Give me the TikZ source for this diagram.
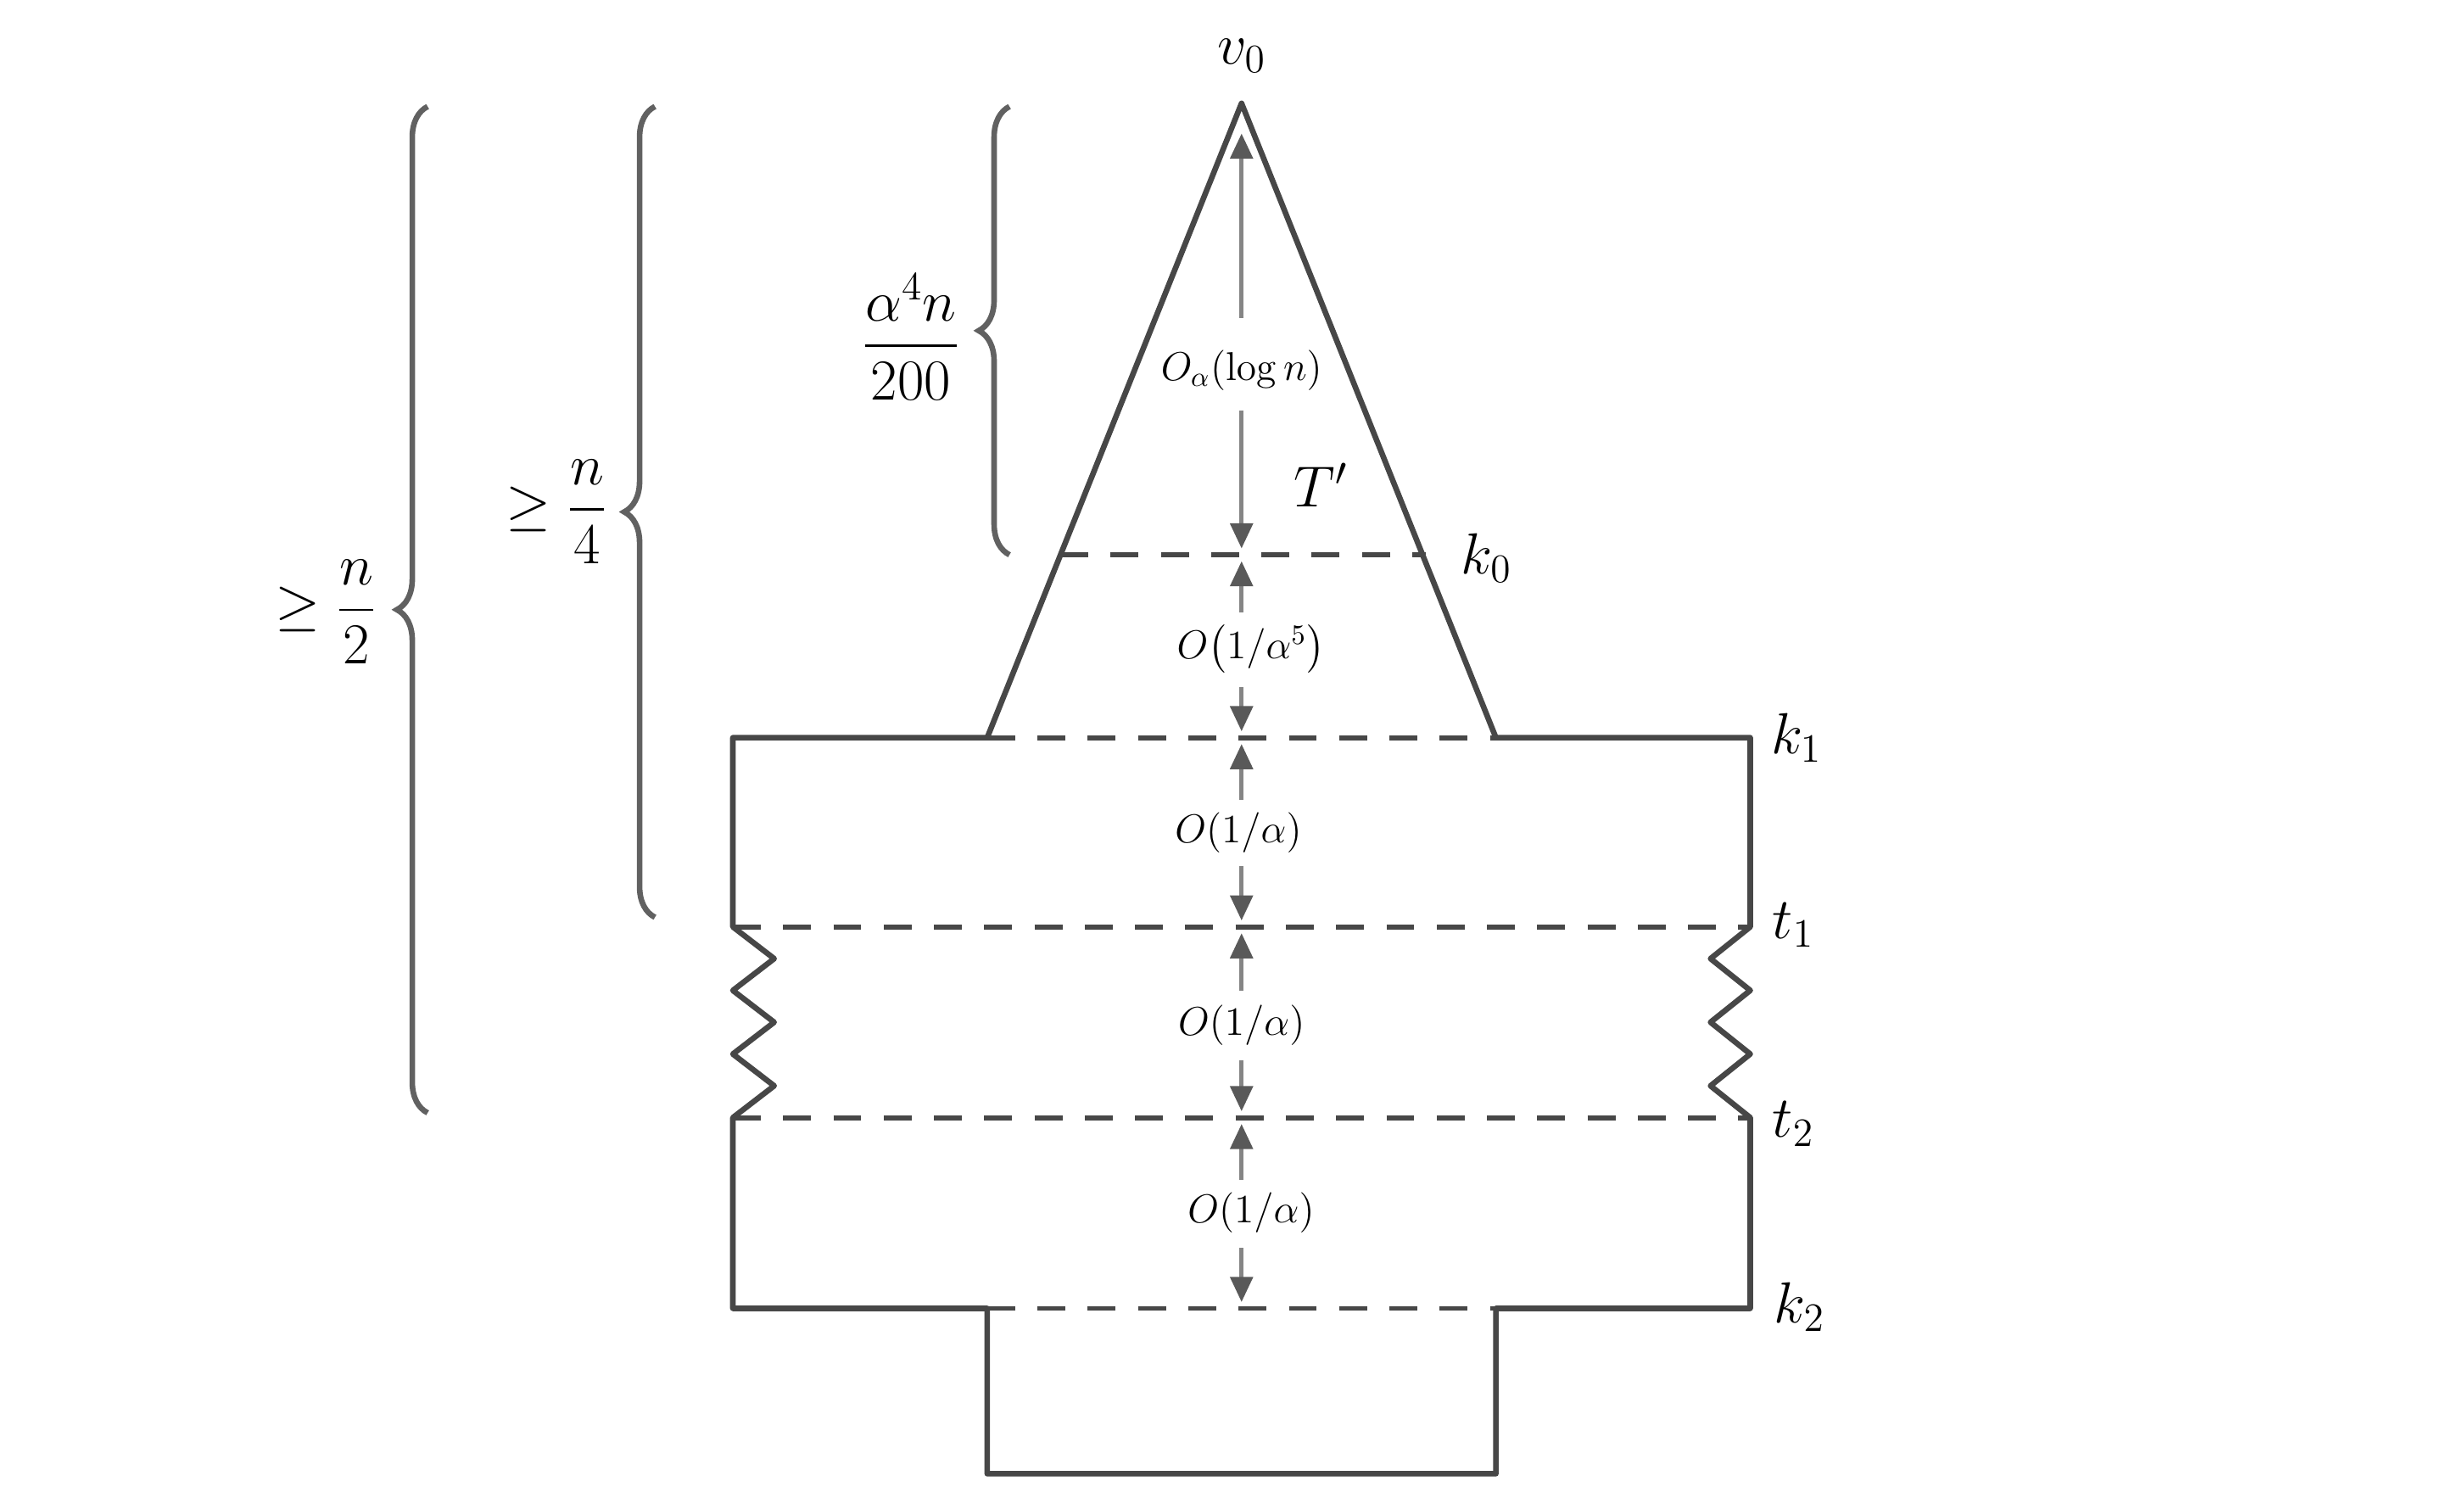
\documentclass[tikz,border=0pt]{standalone}
\usepackage{amsmath}
\usetikzlibrary{decorations.pathreplacing,arrows.meta}
\begin{document}
\begin{tikzpicture}[x=0.02cm,y=-0.02cm,
  solidline/.style={line width=2pt,draw=black!72,line join=round},
  dashline/.style={line width=1.8pt,draw=black!72,dash pattern=on 10pt off 8pt},
  meas/.style={line width=1.5pt,draw=black!48,-{Triangle[length=9pt,width=8pt,fill=black!65,color=black!65]}},
  mlab/.style={font=\Large,inner sep=1pt},
  plab/.style={font=\huge,inner sep=1pt},
  bracestyle/.style={line width=2pt,draw=black!62,decorate,decoration={brace,amplitude=11pt}},
  blab/.style={font=\huge,inner sep=1pt}]
\useasboundingbox (0,0) rectangle (1550,942);
% key points
\coordinate (v0) at (781,65);
\coordinate (TL) at (621,464); \coordinate (TR) at (941,464);
\coordinate (k0L) at (667,349); \coordinate (k0R) at (897,349);
\coordinate (k1L) at (461,464); \coordinate (k1R) at (1101,464);
\coordinate (t1L) at (461,583); \coordinate (t1R) at (1101,583);
\coordinate (t2L) at (461,703); \coordinate (t2R) at (1101,703);
\coordinate (k2L) at (461,823); \coordinate (k2R) at (1101,823);
\coordinate (BL) at (621,823); \coordinate (BR) at (941,823);
\coordinate (BBL) at (621,927); \coordinate (BBR) at (941,927);
% outline
\draw[solidline] (k1L) -- (TL) -- (v0) -- (TR) -- (k1R) -- (t1R)
  -- (1076,603) -- (1101,623) -- (1076,643) -- (1101,663) -- (1076,683) -- (t2R) -- (k2R) -- (BR) -- (BBR) -- (BBL) -- (BL) -- (k2L) -- (t2L)
  -- (487,683) -- (461,663) -- (487,643) -- (461,623) -- (487,603) -- (t1L) -- cycle;
% dashed levels
\draw[dashline] (k0L) -- (k0R);
\draw[dashline] (TL) -- (TR);
\draw[dashline] (t1L) -- (t1R);
\draw[dashline] (t2L) -- (t2R);
\draw[dashline] (BL) -- (BR);
% labels
\node[plab] (lv0) at (781,35) {$v_0$};
\node[plab] (lk0) at (935,351) {$k_0$};
\node[plab] (lk1) at (1130,464) {$k_1$};
\node[plab] (lt1) at (1128,582) {$t_1$};
\node[plab] (lt2) at (1128,707) {$t_2$};
\node[plab] (lk2) at (1132,822) {$k_2$};
\node[plab] (lT) at (831,305) {$T'$};
% measurement labels
\node[mlab] (m0) at (781,233) {$O_\alpha(\log n)$};
\node[mlab] (m1) at (787,408) {$O\big(1/\alpha^5\big)$};
\node[mlab] (m2) at (779,524) {$O(1/\alpha)$};
\node[mlab] (m3) at (781,645) {$O(1/\alpha)$};
\node[mlab] (m4) at (787,763) {$O(1/\alpha)$};
\coordinate (a0) at (781,84); \coordinate (b0) at (781,345);
\draw[meas] (781,200) -- (a0); \draw[meas] (781,258) -- (b0);
\draw[meas] (781,385) -- (781,353); \draw[meas] (781,432) -- (781,460);
\draw[meas] (781,503) -- (781,468); \draw[meas] (781,545) -- (781,579);
\draw[meas] (781,623) -- (781,587); \draw[meas] (781,667) -- (781,699);
\draw[meas] (781,742) -- (781,707); \draw[meas] (781,785) -- (781,819);
% braces
\coordinate (c1a) at (635,349); \coordinate (c1b) at (635,67);
\draw[bracestyle] (c1a) -- (c1b);
\node[blab] (b1) at (573,212) {$\dfrac{\alpha^4 n}{200}$};
\coordinate (c2a) at (412,577); \coordinate (c2b) at (412,67);
\draw[bracestyle] (c2a) -- (c2b);
\node[blab] (b2) at (350,322) {$\geq \dfrac{n}{4}$};
\coordinate (c3a) at (269,700); \coordinate (c3b) at (269,67);
\draw[bracestyle] (c3a) -- (c3b);
\node[blab] (b3) at (205,385) {$\geq \dfrac{n}{2}$};
\end{tikzpicture}
\end{document}
